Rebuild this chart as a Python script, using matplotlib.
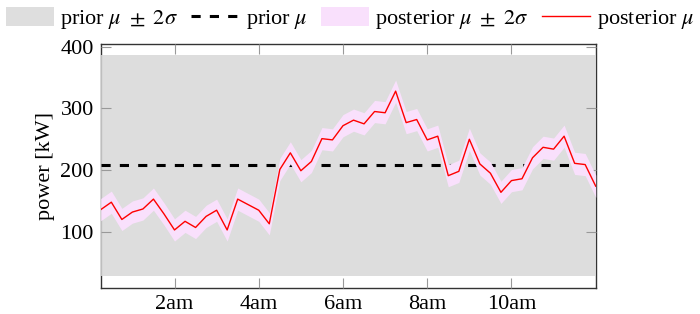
import numpy as np
import matplotlib
matplotlib.use("Agg")
import matplotlib.pyplot as plt
from matplotlib.patches import Patch
from matplotlib.lines import Line2D

plt.rcParams['font.family'] = ['Liberation Serif', 'DejaVu Serif']
plt.rcParams['mathtext.fontset'] = 'stix'

# 15 minute steps from 0:15 to 12:00 (hours)
hours = np.arange(0.25, 12.01, 0.25)
posterior_mu = [136, 148, 120, 132, 137, 153, 129, 103, 117, 107, 125, 135,
                103, 153, 144, 135, 113, 201, 228, 199, 214, 251, 249, 272,
                281, 275, 295, 293, 328, 277, 282, 249, 255, 191, 198, 250,
                210, 195, 164, 183, 186, 220, 237, 234, 255, 211, 209, 174]
posterior_2sigma = 18
prior_mu = 208
prior_2sigma = 179

tick_hours = [2, 4, 6, 8, 10]
tick_labels = ['2am', '4am', '6am', '8am', '10am']

fig = plt.figure(figsize=(7, 3.14), dpi=100)
ax = fig.add_axes([0.144, 0.083, 0.707, 0.776])

mu = np.array(posterior_mu)
ax.fill_between(hours, prior_mu - prior_2sigma, prior_mu + prior_2sigma,
                color='#d8d8d8', alpha=0.85, lw=0, zorder=1)
ax.axhline(prior_mu, color='black', lw=2.2, ls=(0, (3, 3)), zorder=2)
ax.fill_between(hours, mu - posterior_2sigma, mu + posterior_2sigma,
                color='#f9e0fc', lw=0, zorder=3)
ax.plot(hours, mu, color='red', lw=1, zorder=4)

ax.set_xlim(hours[0], hours[-1])
ax.set_ylim(9, 404)
ax.set_xticks(tick_hours)
ax.set_xticklabels(tick_labels)
ax.set_yticks([100, 200, 300, 400])
ax.tick_params(direction='in', length=7, width=0.8, color='#999999',
               top=True, right=True, labelsize=16, pad=5)
for s in ax.spines.values():
    s.set_color('#333333')
    s.set_linewidth(1)
    s.set_zorder(0.5)
ax.set_ylabel('power [kW]', fontsize=16, labelpad=4)

handles = [
    Patch(facecolor='#dedede', edgecolor='none'),
    Line2D([], [], color='black', lw=2.2, ls=(0, (3, 3))),
    Patch(facecolor='#f9e0fc', edgecolor='none'),
    Line2D([], [], color='red', lw=1),
]
labels = [r'prior $\mu\ \pm\ 2\sigma$', r'prior $\mu$',
          r'posterior $\mu\ \pm\ 2\sigma$', r'posterior $\mu$']
fig.legend(handles, labels, loc='upper center', bbox_to_anchor=(0.5, 1.04),
           ncol=4, frameon=False, fontsize=16, handlelength=2.15,
           handleheight=0.9, handletextpad=0.3, columnspacing=0.6)

fig.savefig('out.png', dpi=100)
